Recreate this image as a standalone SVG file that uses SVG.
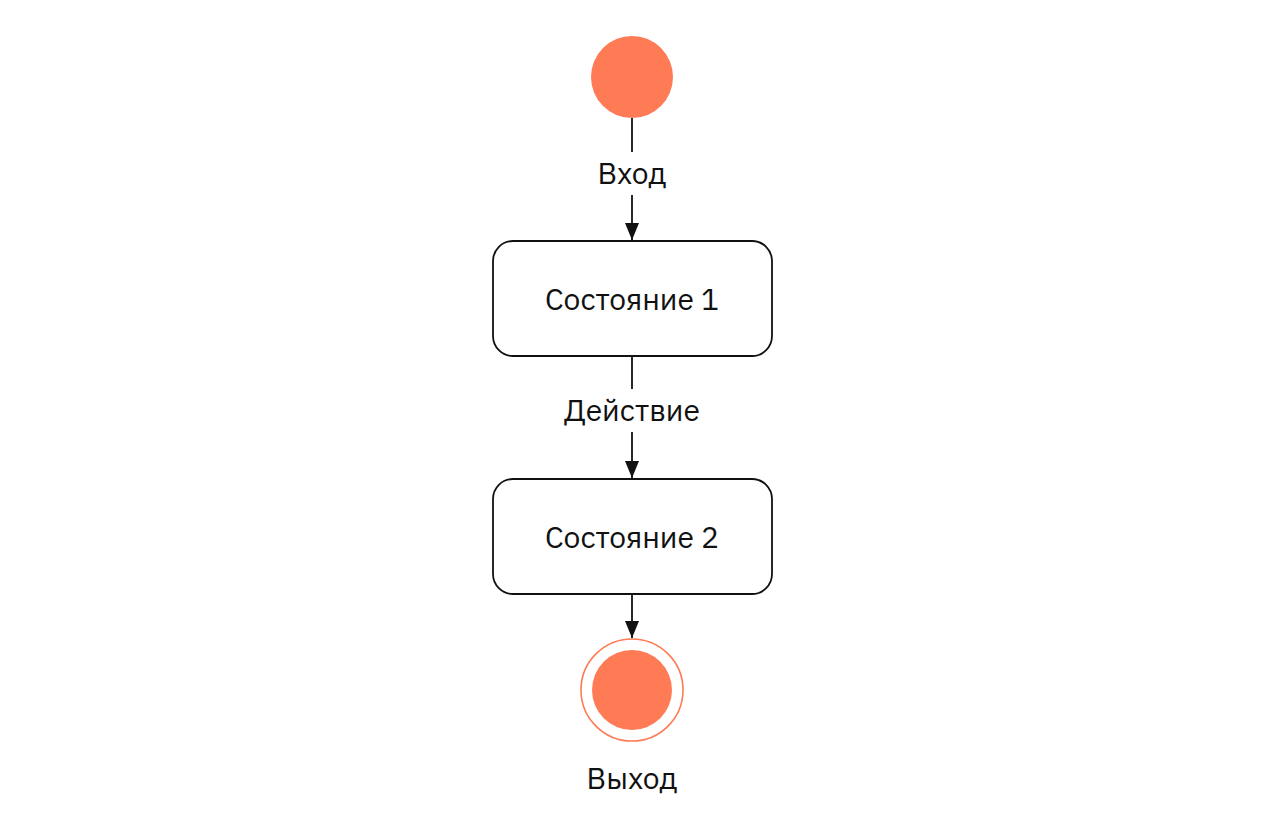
<svg xmlns="http://www.w3.org/2000/svg" width="1272" height="827" viewBox="0 0 1272 827">
<style>
.t{font-family:"IBM Plex Sans","Noto Sans","Liberation Sans",sans-serif;font-size:30px;fill:#111;text-anchor:middle;dominant-baseline:central}
.box{fill:#fff;stroke:#111;stroke-width:1.8}
.e{stroke:#111;stroke-width:1.8;fill:none}
.dot{fill:#FF7B55}
</style>
<defs>
<marker id="ah" viewBox="0 0 17 14" refX="17" refY="7" markerWidth="17" markerHeight="14" markerUnits="userSpaceOnUse" orient="auto">
<path d="M0,0 L17,7 L0,14 z" fill="#111"/>
</marker>
</defs>
<rect width="1272" height="827" fill="#fff"/>
<g id="connectors">
<line class="e" x1="632" y1="118" x2="632" y2="152"/>
<line class="e" x1="632" y1="195" x2="632" y2="240" marker-end="url(#ah)"/>
<line class="e" x1="632" y1="356" x2="632" y2="389"/>
<line class="e" x1="632" y1="432" x2="632" y2="478" marker-end="url(#ah)"/>
<line class="e" x1="632" y1="594" x2="632" y2="638" marker-end="url(#ah)"/>
<text class="t" x="632" y="172">Вход</text>
<text class="t" x="632" y="409">Действие</text>
</g>
<g id="start">
<circle class="dot" cx="632" cy="77" r="41"/>
</g>
<g id="state1">
<rect class="box" x="493" y="241" width="279" height="115" rx="20"/>
<text class="t" x="632" y="298">Состояние 1</text>
</g>
<g id="state2">
<rect class="box" x="493" y="479" width="279" height="115" rx="20"/>
<text class="t" x="632" y="536">Состояние 2</text>
</g>
<g id="end">
<circle cx="632" cy="690" r="51" fill="#fff" stroke="#FF7B55" stroke-width="1.6"/>
<circle class="dot" cx="632" cy="690" r="40"/>
<text class="t" x="632" y="777">Выход</text>
</g>
</svg>
